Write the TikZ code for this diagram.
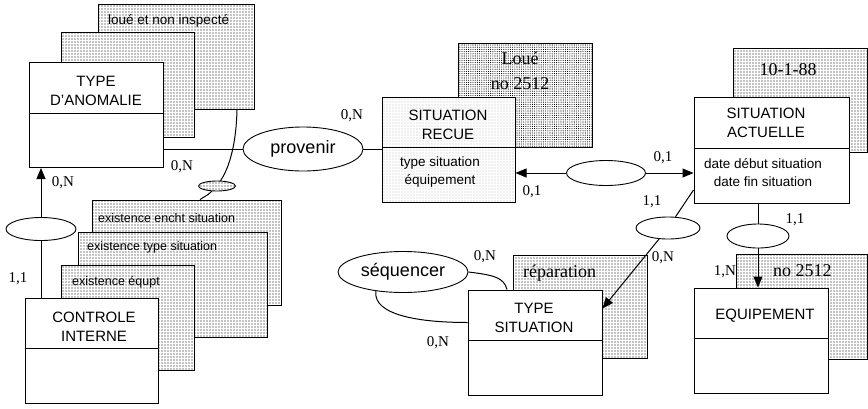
\documentclass[tikz,border=0pt]{standalone}
\usepackage{fontspec}
\setmainfont{Liberation Sans}
\newfontfamily\romfont{Liberation Serif}
\usetikzlibrary{shapes.geometric,arrows.meta,patterns.meta}
\tikzset{
  entity/.style={draw=black,fill=white,line width=1pt,minimum width=134pt,minimum height=105pt,inner sep=0pt},
  card/.style={draw=black,line width=1pt,preaction={fill=white},pattern={Dots[distance=3pt,radius=.6pt]},pattern color=black,minimum width=134pt,minimum height=105pt,inner sep=0pt},
  rel/.style={ellipse,draw=black,fill=white,line width=.9pt,inner sep=0pt},
  title/.style={align=center,inner sep=0pt,font=\fontsize{15}{19}\selectfont},
  attr/.style={align=center,inner sep=0pt,font=\fontsize{13.5}{18}\selectfont},
  note/.style={anchor=west,inner sep=0pt,font=\fontsize{12.5}{15}\selectfont},
}
\tikzset{val/.style={inner sep=0pt,align=center,font=\romfont\fontsize{18}{25}\selectfont}, mult/.style={inner sep=0pt,font=\romfont\fontsize{15}{18}\selectfont}, link/.style={line width=1pt}, arr/.style={link,-{Triangle[length=11pt,width=9pt]}}}

\begin{document}
\begin{tikzpicture}[x=1pt,y=-1pt]
\useasboundingbox (0,0) rectangle (868,408);
% cartes d'exemples
\node[card,minimum width=156pt](cA) at (176,56.5){};\node[card,minimum width=133pt](cB) at (127.5,84.5){};
\node[card,minimum width=189pt](cC) at (186.5,252.5){};\node[card,minimum width=189pt](cD) at (172.5,285){};
\node[card,minimum width=133pt](cE) at (127.5,317.5){};
\node[card,pattern={Dots[distance=2.2pt,radius=.55pt]},minimum height=104pt](cF) at (525,95){};\node[card,minimum height=104pt](cG) at (800,100){};
\node[card,minimum height=103pt](cH) at (580,306.5){};\node[card,minimum width=131pt](cI) at (801.5,306.5){};
\node[note,font=\fontsize{13.5}{16}\selectfont](nA) at (108,21){loué et non inspecté};
\node[note](nC) at (98,218){existence encht situation};\node[note](nD) at (87,247){existence type situation};
\node[note](nE) at (72,282){existence équpt};
\node[val](nF) at (520,70.5){Loué\\no 2512};\node[val](nG) at (788,70){10-1-88};
\node[val,anchor=west](nH) at (523,273){réparation};\node[val,anchor=west](nI) at (773,271){no 2512};
% entites
\node[entity](ta) at (96,115){};\node[entity,minimum width=133pt](ci) at (91.5,350.5){};
\node[entity,minimum width=133pt,preaction={fill=white},pattern={Dots[distance=3pt,radius=.45pt]},pattern color=black!70](sr) at (448.5,149.5){};
\node[entity,minimum width=155pt,minimum height=106pt](sa) at (771.5,150){};
\node[entity](ts) at (535,342.5){};\node[entity](eq) at (761,340.5){};
\foreach \e in {ta,ci,sr,sa,ts,eq}{\draw[link] ([yshift=2pt]\e.west) -- ([yshift=2pt]\e.east);}
\node[title](tat) at (96,90.5){TYPE\\D'ANOMALIE};\node[title](cit) at (94,327){CONTROLE\\INTERNE};
\node[title](srt) at (448,124.5){SITUATION\\RECUE};\node[attr](sra) at (440,172){type situation\\équipement};
\node[title](sat) at (766,123){SITUATION\\ACTUELLE};\node[attr](saa) at (763,173){date début situation\\date fin situation};
\node[title](tst) at (534,318){TYPE\\SITUATION};\node[title](eqt) at (765,316){EQUIPEMENT};
% relations
\node[rel,minimum width=120pt,minimum height=44pt,font=\fontsize{18}{20}\selectfont](pv) at (303,149){provenir};
\node[rel,minimum width=70pt,minimum height=23pt](e1) at (41,229){};
\node[rel,minimum width=37pt,minimum height=10pt,preaction={fill=white},pattern={Dots[distance=3pt,radius=.6pt]}](e2) at (217,186){};
\node[rel,minimum width=79pt,minimum height=25pt](e3) at (606,173){};
\node[rel,minimum width=64pt,minimum height=22pt](e4) at (668,228){};
\node[rel,minimum width=62pt,minimum height=24pt](e5) at (758,236){};
\node[rel,minimum width=130pt,minimum height=41pt,font=\fontsize{18}{20}\selectfont](sq) at (403,272){séquencer};
\draw[link] (pv) -- (pv -| ta.east);\draw[link] (pv) -- (pv -| sr.west);
\draw[link] (e1) -- (e1 |- ci.north);\draw[arr] (e1) -- (e1 |- ta.south);
\draw[link] ([xshift=61pt]cA.south) .. controls +(-1,45) and +(8,-12) .. (e2);
\draw[link] (e2) .. controls +(-8,8) .. ([xshift=13.5pt]cC.north);
\draw[arr] (e3) -- (e3 -| sr.east);\draw[arr] (e3) -- (e3 -| sa.west);
\draw[link] ([yshift=-40pt]sa.west) -- (e4);\draw[arr] (e4) -- ([yshift=34pt]ts.east);
\draw[link] (e5) -- (e5 |- sa.south);\draw[arr] (e5) -- (e5 |- eq.north);
\draw[link] (sq.east) .. controls +(25,3) and +(-3,-12) .. ([xshift=-28pt]ts.north);
\draw[link] (sq.215) .. controls +(-3,25) and +(-45,0) .. ([yshift=20pt]ts.west);
% cardinalites
\node[mult](c1) at (63,183){0,N};\node[mult](c2) at (18,279){1,1};
\node[mult](c3) at (182,167){0,N};\node[mult](c4) at (352,116){0,N};
\node[mult](c5) at (663,158){0,1};\node[mult](c6) at (532,192){0,1};
\node[mult](c7) at (652,202){1,1};\node[mult](c8) at (663,258){0,N};
\node[mult](c9) at (795,220){1,1};\node[mult](c10) at (725,272){1,N};
\node[mult](c11) at (485,257){0,N};\node[mult](c12) at (438,343){0,N};
\end{tikzpicture}
\end{document}
